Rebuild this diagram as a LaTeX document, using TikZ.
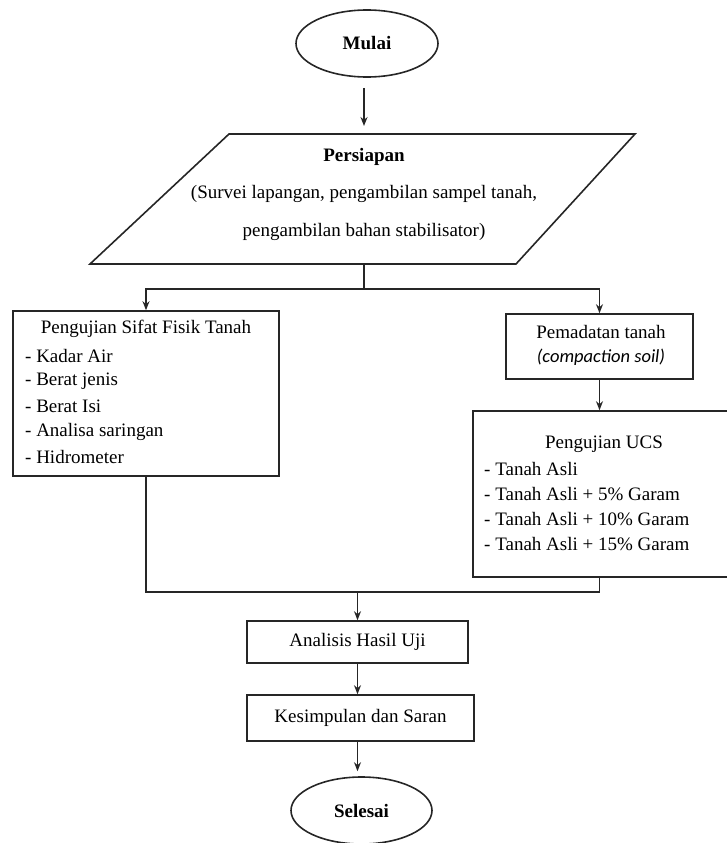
\documentclass[tikz,border=0pt]{standalone}
\usepackage{fontspec}
\setmainfont{Liberation Serif}
\newfontfamily\carl{Carlito}
\usetikzlibrary{arrows.meta,shapes.geometric}
\begin{document}
\begin{tikzpicture}[x=1pt,y=-1pt,
  line/.style={line width=1.6pt, draw=black!85, line join=miter},
  arr/.style={line, -{Stealth[length=9pt,width=7pt]}},
  box/.style={line, draw, rectangle, inner sep=0pt},
  oval/.style={line, draw, ellipse, inner sep=0pt, minimum width=142pt, minimum height=67pt},
  txt/.style={font=\fontsize{19}{25.5}\selectfont, inner sep=0pt},
  btxt/.style={font=\fontsize{19}{25.5}\selectfont\bfseries, inner sep=0pt},
  itm/.style={txt, anchor=west},
  ]
\useasboundingbox (0,0) rectangle (726,843);

% start
\node[oval, btxt] (mulai) at (367,43.5) {Mulai};

% parallelogram
\coordinate (p1) at (229,134);
\coordinate (p2) at (635,134);
\coordinate (p3) at (516,264);
\coordinate (p4) at (90,264);
\draw[line] (p1) -- (p2) -- (p3) -- (p4) -- cycle;
\coordinate (ptop) at (364,134);
\coordinate (pbot) at (364,264);
\node[btxt] (persiapan) at (364,157) {Persiapan};
\node[txt] (prep2) at (364,194) {(Survei lapangan, pengambilan sampel tanah,};
\node[txt] (prep3) at (364,232) {pengambilan bahan stabilisator)};

% left box
\node[box, minimum width=266pt, minimum height=165pt] (fisik) at (146,393.5) {};
\node[txt] (fisikT) at (146,329) {Pengujian Sifat Fisik Tanah};
\node[itm] (f1) at (25,356) {- Kadar Air};
\node[itm] (f2) at (25,381) {- Berat jenis};
\node[itm] (f3) at (25,406) {- Berat Isi};
\node[itm] (f4) at (25,432) {- Analisa saringan};
\node[itm] (f5) at (25,457) {- Hidrometer};

% right boxes
\node[box, minimum width=187pt, minimum height=65pt] (pemadatan) at (599.5,346.5) {};
\node[txt] (pemT1) at (601,332) {Pemadatan tanah};
\node[inner sep=0pt, font=\fontsize{18.5}{24}\selectfont\carl\itshape] (pemT2) at (601,357) {(compaction soil)};

\node[box, minimum width=262pt, minimum height=166pt] (ucs) at (604,494) {};
\node[txt] (ucsT) at (604,444) {Pengujian UCS};
\node[itm] (u1) at (484,469) {- Tanah Asli};
\node[itm] (u2) at (484,494) {- Tanah Asli + 5\% Garam};
\node[itm] (u3) at (484,519) {- Tanah Asli + 10\% Garam};
\node[itm] (u4) at (484,544) {- Tanah Asli + 15\% Garam};

% bottom boxes
\node[box, minimum width=221pt, minimum height=42pt, txt] (analisis) at (357.5,642) {Analisis Hasil Uji};
\node[box, minimum width=227pt, minimum height=46pt, txt] (kesimpulan) at (360.5,718) {Kesimpulan dan Saran};
\node[oval, btxt, minimum width=141pt] (selesai) at (361.5,810.5) {Selesai};

% connectors
\draw[arr, shorten <=10pt, shorten >=8pt] (mulai.south -| ptop) -- (ptop);
\coordinate (br) at (364,289);
\draw[line] (pbot) -- (br);
\draw[arr] (br) -| (fisik.north);
\draw[arr] (br) -| (pemadatan.north);
\draw[arr] (pemadatan.south) -- (pemadatan.south |- ucs.north);
\coordinate (mg) at (357.5,592);
\draw[line] (fisik.south) |- (mg);
\draw[line] (pemadatan.south |- ucs.south) |- (mg);
\draw[arr] (mg) -- (analisis.north);
\draw[arr] (analisis.south) -- (analisis.south |- kesimpulan.north);
\draw[arr, shorten >=5pt] (analisis.south |- kesimpulan.south) -- (analisis.south |- selesai.north);
\end{tikzpicture}
\end{document}
